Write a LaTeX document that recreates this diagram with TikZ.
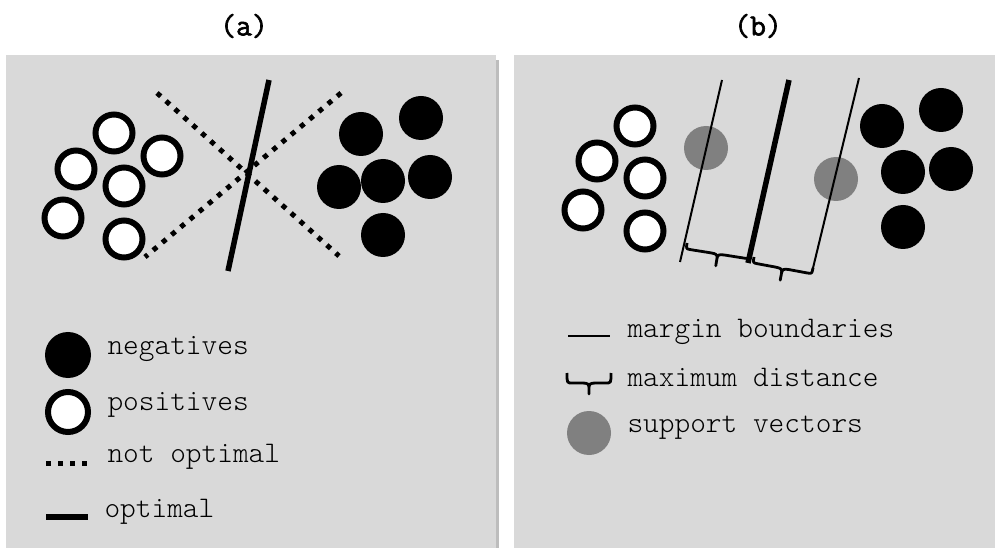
\documentclass[tikz,border=0pt]{standalone}
\usepackage{fontspec}
\setmonofont{Latin Modern Mono Light}
\newfontfamily\titlefont[FakeBold=2]{Latin Modern Mono}
\usepackage{xcolor}
\usepackage{tikz}

\definecolor{panelgray}{HTML}{D9D9D9}
\definecolor{shadegray}{HTML}{BDBDBD}
\definecolor{svgray}{HTML}{808080}

\tikzset{
  posdot/.style={circle, draw=black, line width=6bp, fill=white, minimum size=37bp, inner sep=0pt},
  negdot/.style={circle, fill=black, minimum size=44bp, inner sep=0pt},
  svdot/.style={circle, fill=svgray, minimum size=44bp, inner sep=0pt},
  notopt/.style={line width=5bp, dash pattern=on 5bp off 7bp},
  optline/.style={line width=5.5bp},
  margline/.style={line width=2bp},
  legtext/.style={anchor=base west, font=\ttfamily\fontsize{30}{32}\selectfont},
  paneltitle/.style={font=\titlefont\fontsize{31}{34}\selectfont},
  % brace: length, depth of the bar, depth of the tip
  pics/maxbrace/.style n args={3}{code={
    \draw[line width=2.8bp, line join=round] (0,0) .. controls (0,#2) .. (5,#2)
      -- ({#1/2-7},#2) .. controls ({#1/2-1},#2) and ({#1/2},{#2+1}) .. ({#1/2},{#2+5})
      -- ({#1/2},#3) -- ({#1/2},{#2+5})
      .. controls ({#1/2},{#2+1}) and ({#1/2+1},#2) .. ({#1/2+7},#2)
      -- ({#1-5},#2) .. controls (#1,#2) .. (#1,0);
  }}
}

\begin{document}
\begin{tikzpicture}[x=1bp, y=-1bp]
        \useasboundingbox (0,0) rectangle (995,548);

        % panels
        \fill[shadegray] (496,60) rectangle (499,548);
        \fill[panelgray] (6,55) rectangle (496,548);
        \fill[panelgray] (514,55) rectangle (995,548);

        \node[paneltitle] (ta) at (244,26) {(a)};
        \node[paneltitle] (tb) at (758,26) {(b)};

        % (a) separating lines
        \coordinate (d1s) at (157,93);
        \coordinate (d1e) at (339,256);
        \coordinate (d2s) at (341,93);
        \coordinate (d2e) at (145,257);
        \coordinate (os) at (269,80);
        \coordinate (oe) at (228,271);
        \draw[notopt] (d1s) -- (d1e);
        \draw[notopt] (d2s) -- (d2e);
        \draw[optline] (os) -- (oe);

        % (a) samples
        \node[posdot] (pa1) at (114,133) {};
        \node[posdot] (pa2) at (76,169) {};
        \node[posdot] (pa3) at (162,156) {};
        \node[posdot] (pa4) at (124,186) {};
        \node[posdot] (pa5) at (63,218) {};
        \node[posdot] (pa6) at (124,239) {};
        \node[negdot] (na1) at (361,134) {};
        \node[negdot] (na2) at (421,118) {};
        \node[negdot] (na3) at (339,187) {};
        \node[negdot] (na4) at (383,181) {};
        \node[negdot] (na5) at (430,177) {};
        \node[negdot] (na6) at (383,235) {};

        % (a) legend
        \node[negdot, minimum size=46bp] (lneg) at (68,355) {};
        \node[legtext] (tneg) at (104,355) {negatives};
        \node[posdot, minimum size=40bp] (lpos) at (68,412) {};
        \node[legtext] (tpos) at (104,410) {positives};
        \coordinate (ln1) at (46,463);
        \coordinate (ln2) at (88,463);
        \draw[notopt] (ln1) -- (ln2);
        \node[legtext] (tnot) at (104,462) {not optimal};
        \coordinate (lo1) at (46,517);
        \coordinate (lo2) at (88,517);
        \draw[optline] (lo1) -- (lo2);
        \node[legtext] (topt) at (101,517) {optimal};

        % (b) support vectors under the margins
        \node[svdot] (sv1) at (706,148) {};
        \node[svdot] (sv2) at (836,179) {};

        % (b) margins and hyperplane
        \coordinate (ml1) at (722,80);
        \coordinate (ml2) at (680,262);
        \coordinate (mr1) at (859,78);
        \coordinate (mr2) at (813,268);
        \coordinate (h1) at (789,80);
        \coordinate (h2) at (748,263);
        \draw[margline] (ml1) -- (ml2);
        \draw[margline] (mr1) -- (mr2);
        \draw[optline] (h1) -- (h2);

        \pic[rotate=-9] (bl) at (687,243) {maxbrace={64}{6}{18}};
        \pic[rotate=-10.5] (br) at (754,257) {maxbrace={60}{6}{18}};

        % (b) samples
        \node[posdot] (pb1) at (635,126) {};
        \node[posdot] (pb2) at (597,161) {};
        \node[posdot] (pb3) at (645,178) {};
        \node[posdot] (pb4) at (583,210) {};
        \node[posdot] (pb5) at (645,231) {};
        \node[negdot] (nb1) at (882,126) {};
        \node[negdot] (nb2) at (941,110) {};
        \node[negdot] (nb3) at (903,172) {};
        \node[negdot] (nb4) at (951,169) {};
        \node[negdot] (nb5) at (903,227) {};

        % (b) legend
        \coordinate (lm1) at (568,336);
        \coordinate (lm2) at (610,336);
        \draw[margline] (lm1) -- (lm2);
        \node[legtext] (tmarg) at (624,338) {margin boundaries};
        \pic (lb) at (567,373) {maxbrace={44}{10}{21}};
        \node[legtext] (tmax) at (624,387) {maximum distance};
        \node[svdot] (lsv) at (589,433) {};
        \node[legtext] (tsv) at (624,432) {support vectors};
    \end{tikzpicture}
\end{document}
